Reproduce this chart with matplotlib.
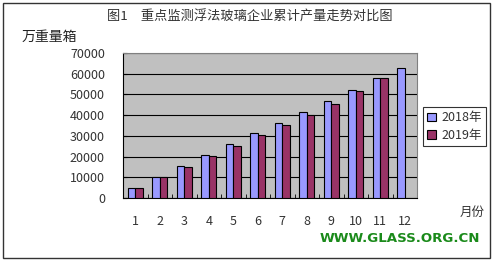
import matplotlib
matplotlib.use("Agg")
import matplotlib.pyplot as plt
import numpy as np
from matplotlib.patches import Rectangle

plt.rcParams['font.family'] = ['Noto Sans CJK SC', 'DejaVu Sans']

months = ['1', '2', '3', '4', '5', '6', '7', '8', '9', '10', '11', '12']
series_2018 = [4970, 10200, 15450, 20760, 26070, 31390, 36360, 41670, 46980, 52290, 57940, 62770]
series_2019 = [4900, 10000, 14970, 20280, 25100, 30420, 35240, 40070, 45530, 51660, 57940, None]
labels = ['2018年', '2019年']
yticks = [0, 10000, 20000, 30000, 40000, 50000, 60000, 70000]
title = '图1　重点监测浮法玻璃企业累计产量走势对比图'

W, H = 493, 260
fig = plt.figure(figsize=(W / 100, H / 100), dpi=100)
fig.patch.set_facecolor('white')

# outer border
fig.patches.append(Rectangle((3 / W, 2 / H), 487 / W, 255 / H, transform=fig.transFigure,
                             fill=False, edgecolor='#333333', linewidth=1.0))

ax = fig.add_axes([123 / W, 1 - 198 / H, (417 - 123) / W, (198 - 53) / H])
ax.set_facecolor('#C0C0C0')

x = np.arange(len(months))
w = 0.31
v18 = [np.nan if v is None else v for v in series_2018]
v19 = [np.nan if v is None else v for v in series_2019]
b1 = ax.bar(x - w / 2, v18, w, color='#9999FF', edgecolor='black', linewidth=0.8, zorder=3, label=labels[0])
b2 = ax.bar(x + w / 2, v19, w, color='#993366', edgecolor='black', linewidth=0.8, zorder=3, label=labels[1])

ax.set_xlim(-0.5, len(months) - 0.5)
ax.set_ylim(0, 70000)
ax.set_yticks(yticks)
ax.set_yticklabels([str(t) for t in yticks], fontsize=9, color='#333333')
ax.set_xticks(x)
ax.set_xticklabels(months, fontsize=9, color='#333333')
ax.tick_params(axis='x', length=0, pad=12)
ax.tick_params(axis='y', length=3, direction='in', pad=13)
ax.set_xticks(np.arange(-0.5, len(months)), minor=True)
ax.tick_params(axis='x', which='minor', length=3, direction='in', color='black')
ax.yaxis.grid(True, color='black', linewidth=0.8, zorder=1)
ax.set_axisbelow(True)
for s in ['top', 'right']:
    ax.spines[s].set_color('#808080')
    ax.spines[s].set_linewidth(0.8)
for s in ['left', 'bottom']:
    ax.spines[s].set_color('black')
    ax.spines[s].set_linewidth(0.8)

leg = fig.legend(handles=[b1, b2], labels=labels, loc='upper left',
                 bbox_to_anchor=(423 / W, 1 - 107 / H), frameon=True, fontsize=9,
                 handlelength=0.7, handleheight=0.7, handletextpad=0.4,
                 borderpad=0.35, labelspacing=0.35, fancybox=False, borderaxespad=0)
leg.get_frame().set_edgecolor('black')
leg.get_frame().set_linewidth(0.8)
for t in leg.get_texts():
    t.set_color('#333333')

fig.text(250 / W, 1 - 17 / H, title, ha='center', va='center', fontsize=9.5, color='#333333')
fig.text(22 / W, 1 - 37 / H, '万重量箱', ha='left', va='center', fontsize=10, color='#222222')
fig.text(472 / W, 1 - 212 / H, '月份', ha='center', va='center', fontsize=9, color='#333333')
fig.text(400 / W, 1 - 238 / H, 'WWW.GLASS.ORG.CN', ha='center', va='center', fontsize=9.6,
         fontweight='heavy', color='#1A8A1A', family=['DejaVu Sans'])

fig.savefig('out.png', dpi=100)
